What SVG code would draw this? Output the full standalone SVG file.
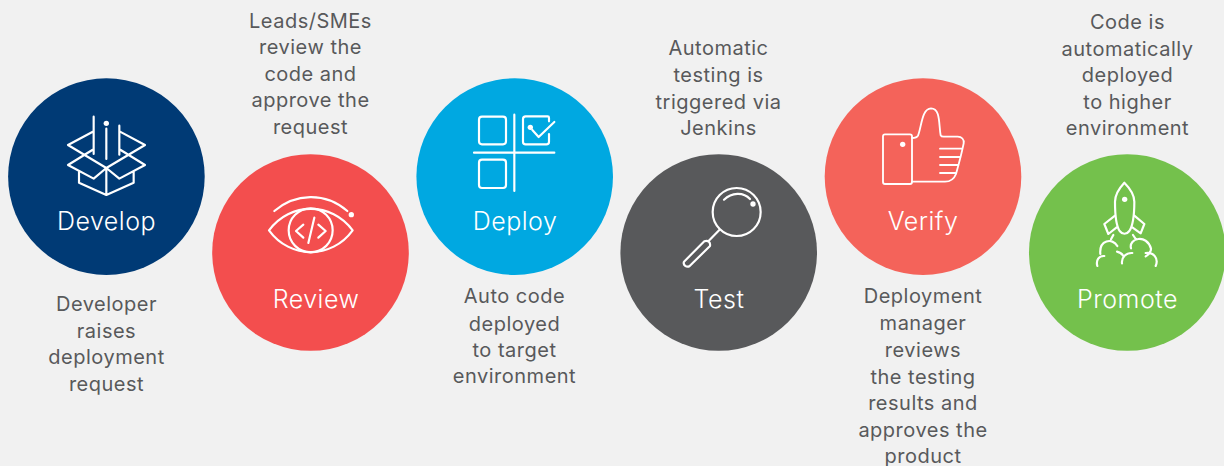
<svg xmlns="http://www.w3.org/2000/svg" width="1224" height="466" viewBox="0 0 1224 466">
<style>
text{font-family:"Inter","Roboto","Liberation Sans",sans-serif}
.t{font-size:20px;fill:#58595b;text-anchor:middle;letter-spacing:.5px}
.l{font-size:25px;font-weight:300;fill:#fff;text-anchor:middle;letter-spacing:.5px}
.i{fill:none;stroke:#fff;stroke-width:6.5;stroke-linecap:round;stroke-linejoin:round}
.d{fill:#fff;stroke:none}
</style>
<rect width="1224" height="466" fill="#f1f1f1"/>
<g id="develop">
<circle cx="106.4" cy="176.6" r="98.3" fill="#003a75"/>
<g transform="translate(0,80) scale(.33333)" class="i">
<path d="M281 110V222M319 146V237M358 137V224M277 156L204 195L319 264L435 195L360 155M277 210L204 255L281 296L319 264L358 296L435 255L362 210M237 276V308L319 345L401 308V276M319 264V345"/>
<circle class="d" cx="319" cy="130" r="8"/>
</g>
<text class="l" x="106.5" y="230">Develop</text>
<text class="t"><tspan x="106.5" y="311">Developer</tspan><tspan x="106.5" y="338">raises</tspan><tspan x="106.5" y="364">deployment</tspan><tspan x="106.5" y="391">request</tspan></text>
</g>
<g id="review">
<circle cx="310.5" cy="252.5" r="98.3" fill="#f34e4e"/>
<g transform="translate(210,150) scale(.33333)" class="i">
<path d="M193 183C255 130 345 125 412 183M177 241C240 155 365 155 428 241C365 328 240 328 177 241Z"/>
<circle cx="302" cy="241" r="66"/>
<path d="M280 224L258 243L280 263M325 224L347 243L325 263M313 203L295 279"/>
<circle class="d" cx="424" cy="194" r="8"/>
</g>
<text class="l" x="316" y="308">Review</text>
<text class="t"><tspan x="310.5" y="28">Leads/SMEs</tspan><tspan x="310.5" y="54">review the</tspan><tspan x="310.5" y="81">code and</tspan><tspan x="310.5" y="107">approve the</tspan><tspan x="310.5" y="134">request</tspan></text>
</g>
<g id="deploy">
<circle cx="514.7" cy="176.6" r="98.3" fill="#00a8e1"/>
<g transform="translate(415,80) scale(.33333)" class="i">
<path d="M298 104V333M177 218H418"/>
<rect x="192" y="110" width="81" height="83" rx="9"/>
<rect x="192" y="239" width="81" height="85" rx="9"/>
<path d="M402 124V113C402 110 400 109 398 109H332C327 109 324 112 324 117V185C324 190 327 193 332 193H394C399 193 402 190 402 185V162M352 150L371 171L418 126"/>
<circle class="d" cx="346" cy="142" r="8"/>
</g>
<text class="l" x="515" y="230">Deploy</text>
<text class="t"><tspan x="514.5" y="303">Auto code</tspan><tspan x="514.5" y="331">deployed</tspan><tspan x="514.5" y="357">to target</tspan><tspan x="514.5" y="383">environment</tspan></text>
</g>
<g id="test">
<circle cx="718.7" cy="252.5" r="98.3" fill="#58595b"/>
<g transform="translate(620,150) scale(.33333)" class="i">
<circle cx="350" cy="186" r="72"/>
<path d="M312 149C335 127 370 125 390 147M298 240L265 274M253 274L192 335C188 345 200 354 209 348L270 288C272 276 264 270 253 274Z"/>
<circle class="d" cx="399" cy="162" r="8"/>
</g>
<text class="l" x="719" y="308">Test</text>
<text class="t"><tspan x="718.5" y="55">Automatic</tspan><tspan x="718.5" y="82">testing is</tspan><tspan x="718.5" y="109">triggered via</tspan><tspan x="718.5" y="135">Jenkins</tspan></text>
</g>
<g id="verify">
<circle cx="923" cy="176.6" r="98.3" fill="#f4635a"/>
<g transform="translate(825,80) scale(.33333)" class="i" style="stroke-width:5.5">
<rect x="174" y="163" width="87" height="149" rx="6"/>
<path d="M261 174C268 174 276 173 279 167C290 140 290 86 318 85C347 85 341 135 347 166C349 170 352 170 356 170H398C410 170 418 178 416 190C410 220 402 250 393 282C386 300 375 305 360 305H261M345 206H412M345 231H406M345 255H400M345 279H392"/>
<circle class="d" cx="233" cy="193" r="8"/>
</g>
<text class="l" x="923" y="230">Verify</text>
<text class="t"><tspan x="923" y="303">Deployment</tspan><tspan x="923" y="330">manager</tspan><tspan x="923" y="357">reviews</tspan><tspan x="923" y="384">the testing</tspan><tspan x="923" y="410">results and</tspan><tspan x="923" y="437">approves the</tspan><tspan x="923" y="463">product</tspan></text>
</g>
<g id="promote">
<circle cx="1127.3" cy="252.5" r="98.3" fill="#74c14c"/>
<g transform="translate(1025,150) scale(.33333)" class="i">
<path d="M298 98C285 112 270 130 270 155C270 190 272 225 284 243C292 254 305 254 313 243C325 225 328 190 328 155C328 130 312 112 298 98Z"/>
<path d="M270 197L238 222L250 252L275 232M328 197L358 222L347 250L322 232M265 255L258 268M324 255L333 268M277 288C262 262 222 270 226 312M217 348C212 330 222 317 238 318M318 295C310 265 365 250 378 296C378 305 373 312 362 319M362 309C385 305 402 325 392 348M276 305C285 307 292 313 295 318M322 309C303 308 289 322 291 340"/>
<circle class="d" cx="299" cy="148" r="8"/>
</g>
<text class="l" x="1127.5" y="308">Promote</text>
<text class="t"><tspan x="1127.5" y="29">Code is</tspan><tspan x="1127.5" y="56">automatically</tspan><tspan x="1127.5" y="82">deployed</tspan><tspan x="1127.5" y="109">to higher</tspan><tspan x="1127.5" y="135">environment</tspan></text>
</g>
</svg>
